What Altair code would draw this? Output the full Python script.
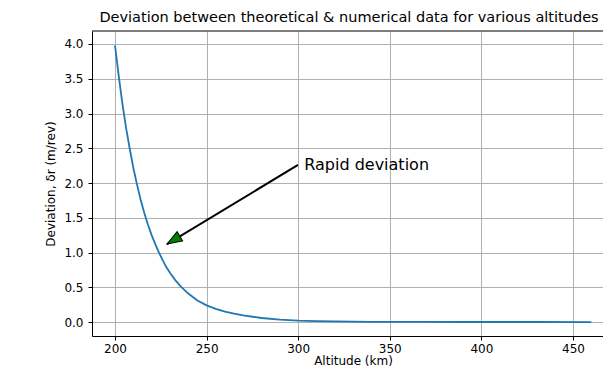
import altair as alt
import pandas as pd

# Altitude (km) and deviation (m/rev)
altitude = [200, 202, 204, 206, 208, 210, 212, 214, 216, 218, 220, 222, 224, 226,
            228, 230, 233, 236, 240, 245, 250, 255, 260, 265, 270, 280, 290, 300,
            310, 320, 330, 340, 350, 370, 390, 410, 430, 460]
deviation = [3.98, 3.55, 3.15, 2.80, 2.50, 2.22, 1.98, 1.76, 1.57, 1.40, 1.25, 1.12,
             1.00, 0.89, 0.79, 0.71, 0.60, 0.51, 0.41, 0.31, 0.24, 0.19, 0.15, 0.12,
             0.095, 0.058, 0.035, 0.021, 0.013, 0.008, 0.005, 0.003, 0.002, 0.001,
             0.0005, 0.0002, 0.0001, 0.0]

x_ticks = [200, 250, 300, 350, 400, 450]
y_ticks = [0.0, 0.5, 1.0, 1.5, 2.0, 2.5, 3.0, 3.5, 4.0]

# annotation (data coordinates)
arrow_start = [299.9, 2.26]
arrow_tip = [228.4, 1.122]
note_text = ["Rapid deviation"]
note_pos = [303.3, 2.19]
title_text = ["Deviation between theoretical & numerical data for various altitudes"]

df = pd.DataFrame({"alt": altitude, "dev": deviation})
FONT = "DejaVu Sans"
W, H = 511, 305

xscale = alt.Scale(domain=[187.45, 187.45 + W / 1.832], nice=False, zero=False)
yscale = alt.Scale(domain=[-0.201, 4.187], nice=False, zero=False)

xaxis = alt.Axis(values=x_ticks, title="Altitude (km)", grid=True, gridColor="#b0b0b0",
                 gridWidth=1, domainColor="black", domainWidth=1, tickColor="black",
                 tickSize=4, tickWidth=1, labelColor="black", labelFont=FONT,
                 labelFontSize=12, labelPadding=3, titleFont=FONT, titleFontSize=12,
                 titleFontWeight="normal", titleColor="black", titleX=261, titleY=31,
                 titleBaseline="bottom", titleAlign="center", labelFlush=False,
                 labelOverlap=False, format="d")
yaxis = alt.Axis(values=y_ticks, title="Deviation, δr (m/rev)", grid=True,
                 gridColor="#b0b0b0", gridWidth=1, domainColor="black", domainWidth=1,
                 tickColor="black", tickSize=4, tickWidth=1, labelColor="black",
                 labelFont=FONT, labelFontSize=12, labelPadding=5, titleFont=FONT,
                 titleFontSize=12, titleFontWeight="normal", titleColor="black",
                 titleAngle=270, titleX=-42, titleY=152.5, titleBaseline="middle",
                 titleAlign="center", format=".1f", labelFlush=False, labelOverlap=False)

line = alt.Chart(df).mark_line(color="#1f77b4", strokeWidth=1.8, clip=True).encode(
    x=alt.X("alt:Q", scale=xscale, axis=xaxis),
    y=alt.Y("dev:Q", scale=yscale, axis=yaxis),
)

# top spine
top = alt.Chart(df.head(1)).mark_rule(color="black", strokeWidth=1).encode(
    x=alt.value(0), x2=alt.value(W), y=alt.value(0))

arrow_df = pd.DataFrame({"x": [arrow_start[0]], "y": [arrow_start[1]],
                         "x2": [arrow_tip[0]], "y2": [arrow_tip[1]]})
arrow_line = alt.Chart(arrow_df).mark_rule(color="black", strokeWidth=2).encode(
    x=alt.X("x:Q", scale=xscale, axis=xaxis), y=alt.Y("y:Q", scale=yscale, axis=yaxis),
    x2="x2:Q", y2="y2:Q")

head = alt.Chart(arrow_df).mark_point(
    shape="M0,0L0.36,1L-0.36,1Z", filled=True, fill="green", stroke="black",
    strokeWidth=1, opacity=1, size=900).encode(
    x=alt.X("x2:Q", scale=xscale, axis=xaxis), y=alt.Y("y2:Q", scale=yscale, axis=yaxis),
    angle=alt.value(239))

note_df = pd.DataFrame({"x": [note_pos[0]], "y": [note_pos[1]], "t": note_text})
note = alt.Chart(note_df).mark_text(font=FONT, fontSize=16, color="black",
                                    align="left", baseline="alphabetic").encode(
    x=alt.X("x:Q", scale=xscale, axis=xaxis), y=alt.Y("y:Q", scale=yscale, axis=yaxis),
    text="t:N")

title_df = pd.DataFrame({"t": title_text})
title = alt.Chart(title_df).mark_text(font=FONT, fontSize=14.5, color="black",
                                      align="center", baseline="alphabetic").encode(
    x=alt.value(257), y=alt.value(-9), text="t:N")

chart = alt.layer(line, top, arrow_line, head, note, title).properties(
    width=W, height=H,
    padding={"left": 84, "top": 23, "right": 0, "bottom": 32},
    autosize=alt.AutoSizeParams(type="none"),
).configure(background="white", view=alt.ViewConfig(stroke=None))

chart.save("out.html", embed_options={"renderer": "svg", "actions": False})
